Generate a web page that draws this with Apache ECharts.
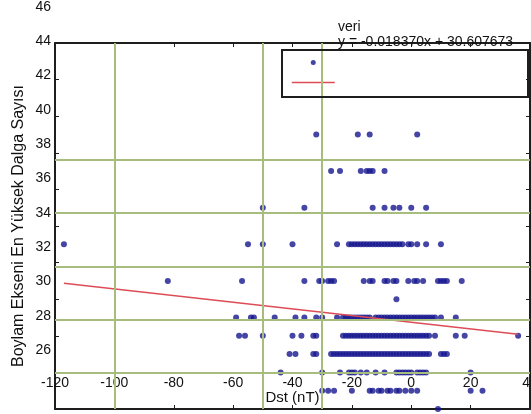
<!DOCTYPE html>
<html>
<head>
<meta charset="utf-8">
<script src="https://cdn.jsdelivr.net/npm/echarts@6/dist/echarts.min.js"></script>
<style>
  html, body { margin: 0; padding: 0; background: #fff; }
  #chart { width: 531px; height: 414px; }
</style>
</head>
<body>
<div id="chart"></div>
<script>
// Dst values, one array per wave-number row
const dst39 = [-32, -18, -14, 2]
const dst37 = [-27, -24, -17, -15, -14, -13, -9]
const dst35 = [-50, -36, -13, -9, -6, -4, 0, 5]
const dst33 = [-117, -55, -50, -40, -25, -21, -20, -19, -18, -17, -16, -15, -14, -13, -12, -11, -10, -9, -8, -7, -6, -5, -4, -3, -1, 0, 2, 5, 10]
const dst31 = [-82, -57, -36, -31, -30, -28, -27, -26, -16, -14, -13, -9, -8, -6, -5, -1, 1, 2, 4, 9, 10, 11, 12, 17]
const dst30 = [-5]
const dst29 = [-59, -54, -53, -46, -39, -36, -32, -30, -25, -23, -22, -21, -20, -19, -18, -17, -16, -15, -14, -12, -11, -10, -9, -8, -7, -6, -5, -4, -3, -2, -1, 0, 1, 2, 3, 4, 5, 6, 7, 8, 10, 15]
const dst28 = [-58, -56, -50, -40, -37, -33, -32, -23, -22, -21, -20, -19, -18, -17, -16, -15, -14, -13, -12, -11, -10, -9, -8, -7, -6, -5, -4, -3, -2, -1, 0, 1, 2, 3, 4, 5, 6, 8, 15, 18, 36]
const dst27 = [-41, -39, -33, -32, -27, -26, -25, -24, -23, -22, -21, -20, -19, -18, -17, -16, -15, -14, -13, -12, -11, -10, -9, -8, -7, -6, -5, -4, -3, -2, -1, 0, 1, 2, 3, 4, 5, 6, 10, 11, 12]
const dst26 = [-44, -30, -24, -21, -20, -19, -17, -15, -12, -9, -5, -4, -3, -2, -1, 0, 2, 3, 4, 5, 20]
const dst25 = [-30, -28, -26, -20, -14, -13, -11, -10, -8, -7, -5, -4, -2, 0, 2, 20, 24]
const dst24 = [9]

const waveRows = [39, 37, 35, 33, 31, 30, 29, 28, 27, 26, 25, 24]
const dstRows = [dst39, dst37, dst35, dst33, dst31, dst30, dst29, dst28, dst27, dst26, dst25, dst24]

// fitted line as drawn (end points)
const fitX = [-117, 36]
const fitY = [30.87, 28.08]

// green reference lines
const gridX = [-100, -50, -30]
const gridY = [37.6, 34.7, 31.8, 28.85, 26]

const equation = 'y = -0.018370x + 30.607673'

const points = []
dstRows.forEach((row, i) => {
  row.forEach(d => points.push([d, waveRows[i]]))
})

const font = 'Liberation Sans'
const black = '#1e1e1e'
const red = '#dd4d57'
const boxLine = { show: true, onZero: false, lineStyle: { color: black, width: 2 } }
const inTick = { show: true, inside: true, length: 4, lineStyle: { color: black, width: 1 } }

const chart = echarts.init(document.getElementById('chart'))
chart.setOption({
  animation: false,
  textStyle: { fontFamily: font },
  grid: [
    { left: 55, right: 1, top: 43, bottom: 5, containLabel: false, outerBoundsMode: 'none' },
    { left: 55, right: 1, top: 7, bottom: 64, containLabel: false, outerBoundsMode: 'none' }
  ],
  xAxis: [
    {
      type: 'value', gridIndex: 0, min: -120, max: 40, interval: 20, position: 'bottom',
      axisLine: boxLine, axisTick: inTick, splitLine: { show: false },
      axisLabel: { margin: -33, fontSize: 14, color: '#111', fontFamily: font },
      name: 'Dst (nT)', nameLocation: 'middle', nameGap: -19, nameMoveOverlap: false,
      nameTextStyle: { fontSize: 15, color: '#111', fontFamily: font }
    },
    {
      type: 'value', gridIndex: 0, min: -120, max: 40, interval: 20, position: 'top',
      axisLine: boxLine, axisTick: inTick, axisLabel: { show: false }, splitLine: { show: false }
    },
    { type: 'value', gridIndex: 1, min: -120, max: 40, show: false }
  ],
  yAxis: [
    {
      type: 'value', gridIndex: 0, min: 24, max: 44, interval: 2, position: 'left',
      axisLine: boxLine, axisTick: inTick, axisLabel: { show: false }, splitLine: { show: false },
      name: 'Boylam Ekseni En Yüksek Dalga Sayısı', nameLocation: 'middle', nameGap: 28,
      nameMoveOverlap: false,
      nameTextStyle: { fontSize: 16, color: '#111', fontFamily: font }
    },
    {
      type: 'value', gridIndex: 0, min: 24, max: 44, interval: 2, position: 'right',
      axisLine: boxLine, axisTick: inTick, axisLabel: { show: false }, splitLine: { show: false }
    },
    {
      type: 'value', gridIndex: 1, min: 26, max: 46, interval: 2, position: 'left',
      axisLine: { show: false }, axisTick: { show: false }, splitLine: { show: false },
      axisLabel: { margin: 4, fontSize: 14, color: '#111', fontFamily: font }
    }
  ],
  legend: {
    data: [
      { name: 'veri', icon: 'circle' },
      { name: 'fit', itemStyle: { opacity: 0 }, lineStyle: { color: red, width: 1.5 } }
    ],
    orient: 'vertical', left: 291, top: 60, padding: 0,
    itemWidth: 43, itemHeight: 5, itemGap: 15,
    selectedMode: false,
    formatter: () => ''
  },
  graphic: [
    {
      type: 'rect', shape: { x: 282, y: 50, width: 246, height: 47 },
      style: { fill: 'transparent', stroke: black, lineWidth: 2 }, z: 10
    },
    {
      type: 'text', x: 338, y: 27,
      style: { text: 'veri', font: '14px "Liberation Sans"', fill: '#111', verticalAlign: 'middle' }, z: 10
    },
    {
      type: 'text', x: 338, y: 42,
      style: { text: equation, font: '14px "Liberation Sans"', fill: '#111', verticalAlign: 'middle' }, z: 10
    }
  ],
  series: [
    {
      name: 'grid', type: 'line', xAxisIndex: 0, yAxisIndex: 0, data: [], z: 1,
      markLine: {
        silent: true, symbol: 'none', label: { show: false },
        lineStyle: { color: '#a7bd7d', width: 2, type: 'solid' },
        data: gridX.map(v => ({ xAxis: v })).concat(gridY.map(v => ({ yAxis: v })))
      }
    },
    {
      name: 'veri', type: 'scatter', xAxisIndex: 0, yAxisIndex: 0, z: 3,
      symbol: 'circle', symbolSize: 6,
      itemStyle: { color: '#161690' },
      data: points
    },
    {
      name: 'fit', type: 'line', xAxisIndex: 0, yAxisIndex: 0, z: 4,
      symbol: 'none',
      lineStyle: { color: red, width: 1.5 },
      itemStyle: { color: red },
      data: fitX.map((x, i) => [x, fitY[i]])
    }
  ]
})
</script>
</body>
</html>
